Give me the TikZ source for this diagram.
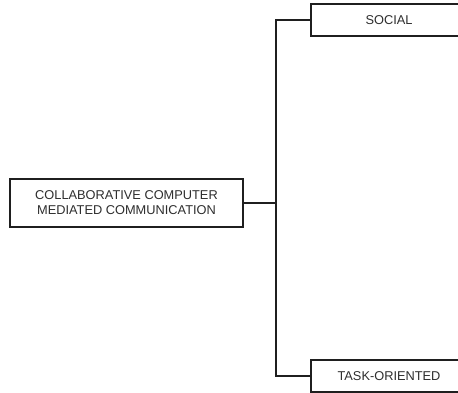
\documentclass[tikz,border=0pt]{standalone}
\usepackage{fontspec}
\setmainfont{Liberation Sans}
\begin{document}
\begin{tikzpicture}[x=1pt,y=-1pt,
  box/.style={draw=black!88,line width=1.3pt,fill=white,inner sep=0pt,
    font=\fontsize{12.8}{15}\selectfont,text=black!82,align=center},
  link/.style={draw=black!88,line width=1.3pt}]
  \useasboundingbox (0,0) rectangle (458,393);
  \clip (0,0) rectangle (458,393);
  \fill[white] (0,0) rectangle (458,393);
  % root and two branches
  \node[box,minimum width=233pt,minimum height=48pt] (root) at (126.5,203) {COLLABORATIVE COMPUTER\\MEDIATED COMMUNICATION};
  \node[box,minimum width=156pt,minimum height=32pt] (social) at (389,20) {SOCIAL};
  \node[box,minimum width=156pt,minimum height=32pt] (task) at (389,376) {TASK-ORIENTED};
  \coordinate (trunk) at (276,203);
  \draw[link] (root.east) -- (trunk);
  \draw[link] (social.west) -| (trunk) |- (task.west);
\end{tikzpicture}
\end{document}
